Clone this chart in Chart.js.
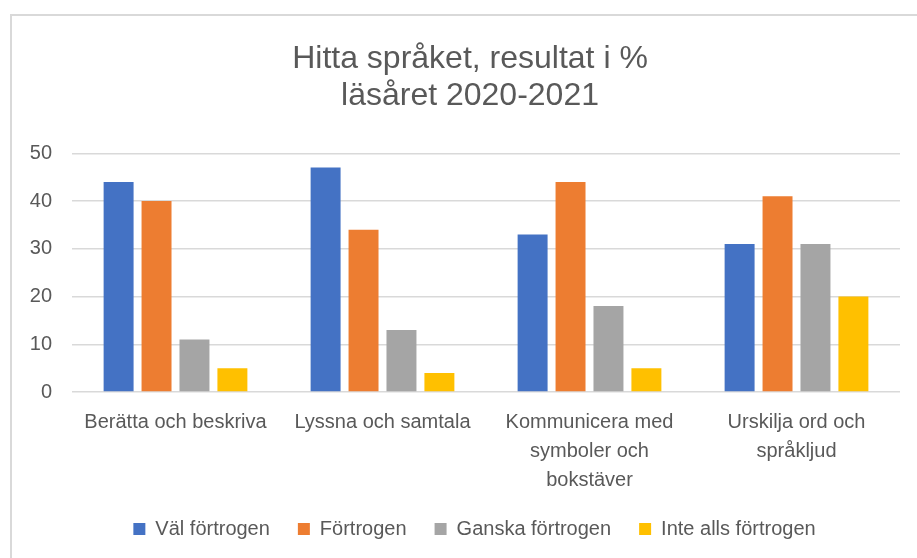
<!DOCTYPE html>
<html lang="sv">
<head>
<meta charset="utf-8">
<title>Hitta språket</title>
<script src="https://cdn.jsdelivr.net/npm/chart.js@4"></script>
<style>
    html, body { margin: 0; padding: 0; background: #fff; }
    #wrap { position: relative; width: 917px; height: 558px; }
</style>
</head>
<body>
<div id="wrap"><canvas id="grafico" width="917" height="558"></canvas></div>
<script>
// Data
const kategorier = [
    'Berätta och beskriva',
    'Lyssna och samtala',
    ['Kommunicera med', 'symboler och', 'bokstäver'],
    ['Urskilja ord och', 'språkljud']
];
const valFortrogen = [44, 47, 33, 31];
const fortrogen = [40, 34, 44, 41];
const ganskaFortrogen = [11, 13, 18, 31];
const inteAllsFortrogen = [5, 4, 5, 20];
const titelRader = ['Hitta språket, resultat i %', 'läsåret 2020-2021'];

const textFarg = '#595959';
const typsnitt = '"Liberation Sans", Arial, sans-serif';

// ram runt diagrammet (bara vänster och överkant syns i originalet)
const ramPlugin = {
    id: 'ram',
    beforeDraw(chart) {
        const ctx = chart.ctx;
        ctx.save();
        ctx.fillStyle = '#ffffff';
        ctx.fillRect(0, 0, chart.width, chart.height);
        ctx.fillStyle = '#d9d9d9';
        ctx.fillRect(10, 14, 2, chart.height - 14);
        ctx.fillRect(10, 14, chart.width - 10, 2);
        ctx.restore();
    },
    // titel och förklaring är centrerade i ramen, inte i hela duken
    afterLayout(chart) {
        chart.titleBlock.left = 40;
        chart.legend.left = 49;
    }
};

function dataset(namn, varden, farg) {
    return {
        label: namn,
        data: varden,
        backgroundColor: farg,
        borderWidth: 0,
        categoryPercentage: 0.733,
        barPercentage: 0.79
    };
}

const ctx = document.getElementById('grafico').getContext('2d');
new Chart(ctx, {
    type: 'bar',
    data: {
        labels: kategorier,
        datasets: [
            dataset('Väl förtrogen', valFortrogen, '#4472C4'),
            dataset('Förtrogen', fortrogen, '#ED7D31'),
            dataset('Ganska förtrogen', ganskaFortrogen, '#A5A5A5'),
            dataset('Inte alls förtrogen', inteAllsFortrogen, '#FFC000')
        ]
    },
    options: {
        responsive: false,
        animation: false,
        layout: { padding: { left: 0, right: 17, top: 0, bottom: 9 } },
        plugins: {
            title: {
                display: true,
                text: titelRader,
                color: textFarg,
                font: { family: typsnitt, size: 32, weight: 'normal', lineHeight: 1.145 },
                padding: { top: 41, bottom: 39 }
            },
            legend: {
                position: 'bottom',
                labels: {
                    color: textFarg,
                    font: { family: typsnitt, size: 20 },
                    boxWidth: 12,
                    boxHeight: 12,
                    padding: 28
                }
            },
            tooltip: { enabled: false }
        },
        scales: {
            x: {
                grid: { display: false },
                border: { display: false },
                ticks: {
                    color: textFarg,
                    font: { family: typsnitt, size: 20, lineHeight: 1.45 },
                    padding: 8,
                    maxRotation: 0,
                    autoSkip: false
                },
                afterFit(scale) { scale.height = 99; }
            },
            y: {
                min: 0,
                max: 50,
                grid: { color: '#d9d9d9', lineWidth: 1.5, drawTicks: false },
                border: { display: false },
                ticks: {
                    stepSize: 10,
                    color: textFarg,
                    font: { family: typsnitt, size: 20 },
                    padding: 20
                },
                afterFit(scale) { scale.width = 72; }
            }
        }
    },
    plugins: [ramPlugin]
});
</script>
</body>
</html>
